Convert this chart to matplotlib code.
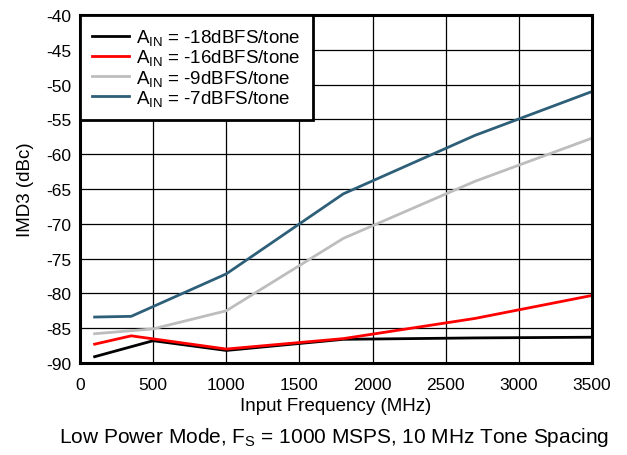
import numpy as np
import matplotlib.pyplot as plt

plt.rcParams['font.family'] = ['Liberation Sans', 'DejaVu Sans']
plt.rcParams['mathtext.fontset'] = 'custom'
plt.rcParams['mathtext.rm'] = 'Liberation Sans'
plt.rcParams['mathtext.it'] = 'Liberation Sans:italic'
plt.rcParams['axes.unicode_minus'] = False

# Data
freq_18 = [100, 500, 1000, 1800, 2700, 3500]
imd3_18 = [-89.1, -86.8, -88.2, -86.6, -86.4, -86.3]

freq_16 = [100, 350, 1000, 1800, 2700, 3500]
imd3_16 = [-87.3, -86.1, -88.0, -86.5, -83.6, -80.3]

freq_9 = [100, 500, 1000, 1800, 2700, 3500]
imd3_9 = [-85.8, -85.1, -82.5, -72.1, -63.9, -57.7]

freq_7 = [100, 350, 1000, 1800, 2700, 3500]
imd3_7 = [-83.4, -83.3, -77.2, -65.7, -57.3, -51.0]

labels = ['A$_{\\mathrm{IN}}$ = -18dBFS/tone',
          'A$_{\\mathrm{IN}}$ = -16dBFS/tone',
          'A$_{\\mathrm{IN}}$ = -9dBFS/tone',
          'A$_{\\mathrm{IN}}$ = -7dBFS/tone']
colors = ['black', 'red', '#bdbdbd', '#2e5f78']

xticks = np.arange(0, 3501, 500)
yticks = np.arange(-90, -39, 5)

fig = plt.figure(figsize=(6.27, 4.56), dpi=100)
ax = fig.add_axes([0.1276, 0.2018, 0.8166, 0.7632])

series = [(freq_18, imd3_18), (freq_16, imd3_16), (freq_9, imd3_9), (freq_7, imd3_7)]
for (x, y), lab, c in zip(series, labels, colors):
    ax.plot(x, y, color=c, lw=2, label=lab)

ax.set_xlim(0, 3500)
ax.set_ylim(-90, -40)
ax.set_xticks(xticks)
ax.set_yticks(yticks)
ax.tick_params(length=0, labelsize=12.5)
ax.tick_params(axis='x', pad=10)
ax.tick_params(axis='y', pad=6)
ax.grid(True, color='black', lw=0.9)
ax.set_axisbelow(True)
for s in ax.spines.values():
    s.set_linewidth(2.2)

ax.set_xlabel('Input Frequency (MHz)', fontsize=13.5, labelpad=4)
ax.set_ylabel('IMD3 (dBc)', fontsize=13.5, labelpad=9)

leg = ax.legend(loc='upper left', bbox_to_anchor=(0, 1), fontsize=13.5,
                frameon=True, fancybox=False, borderaxespad=0,
                handlelength=1.95, handletextpad=0.4, labelspacing=0.01,
                borderpad=0.65)
leg.get_frame().set_edgecolor('black')
leg.get_frame().set_linewidth(2)
leg.get_frame().set_alpha(1)

fig.text(0.533, 0.04, 'Low Power Mode, F$_{\\mathrm{S}}$ = 1000 MSPS, 10 MHz Tone Spacing',
         ha='center', va='center', fontsize=15)

fig.savefig('out.png', dpi=100)
